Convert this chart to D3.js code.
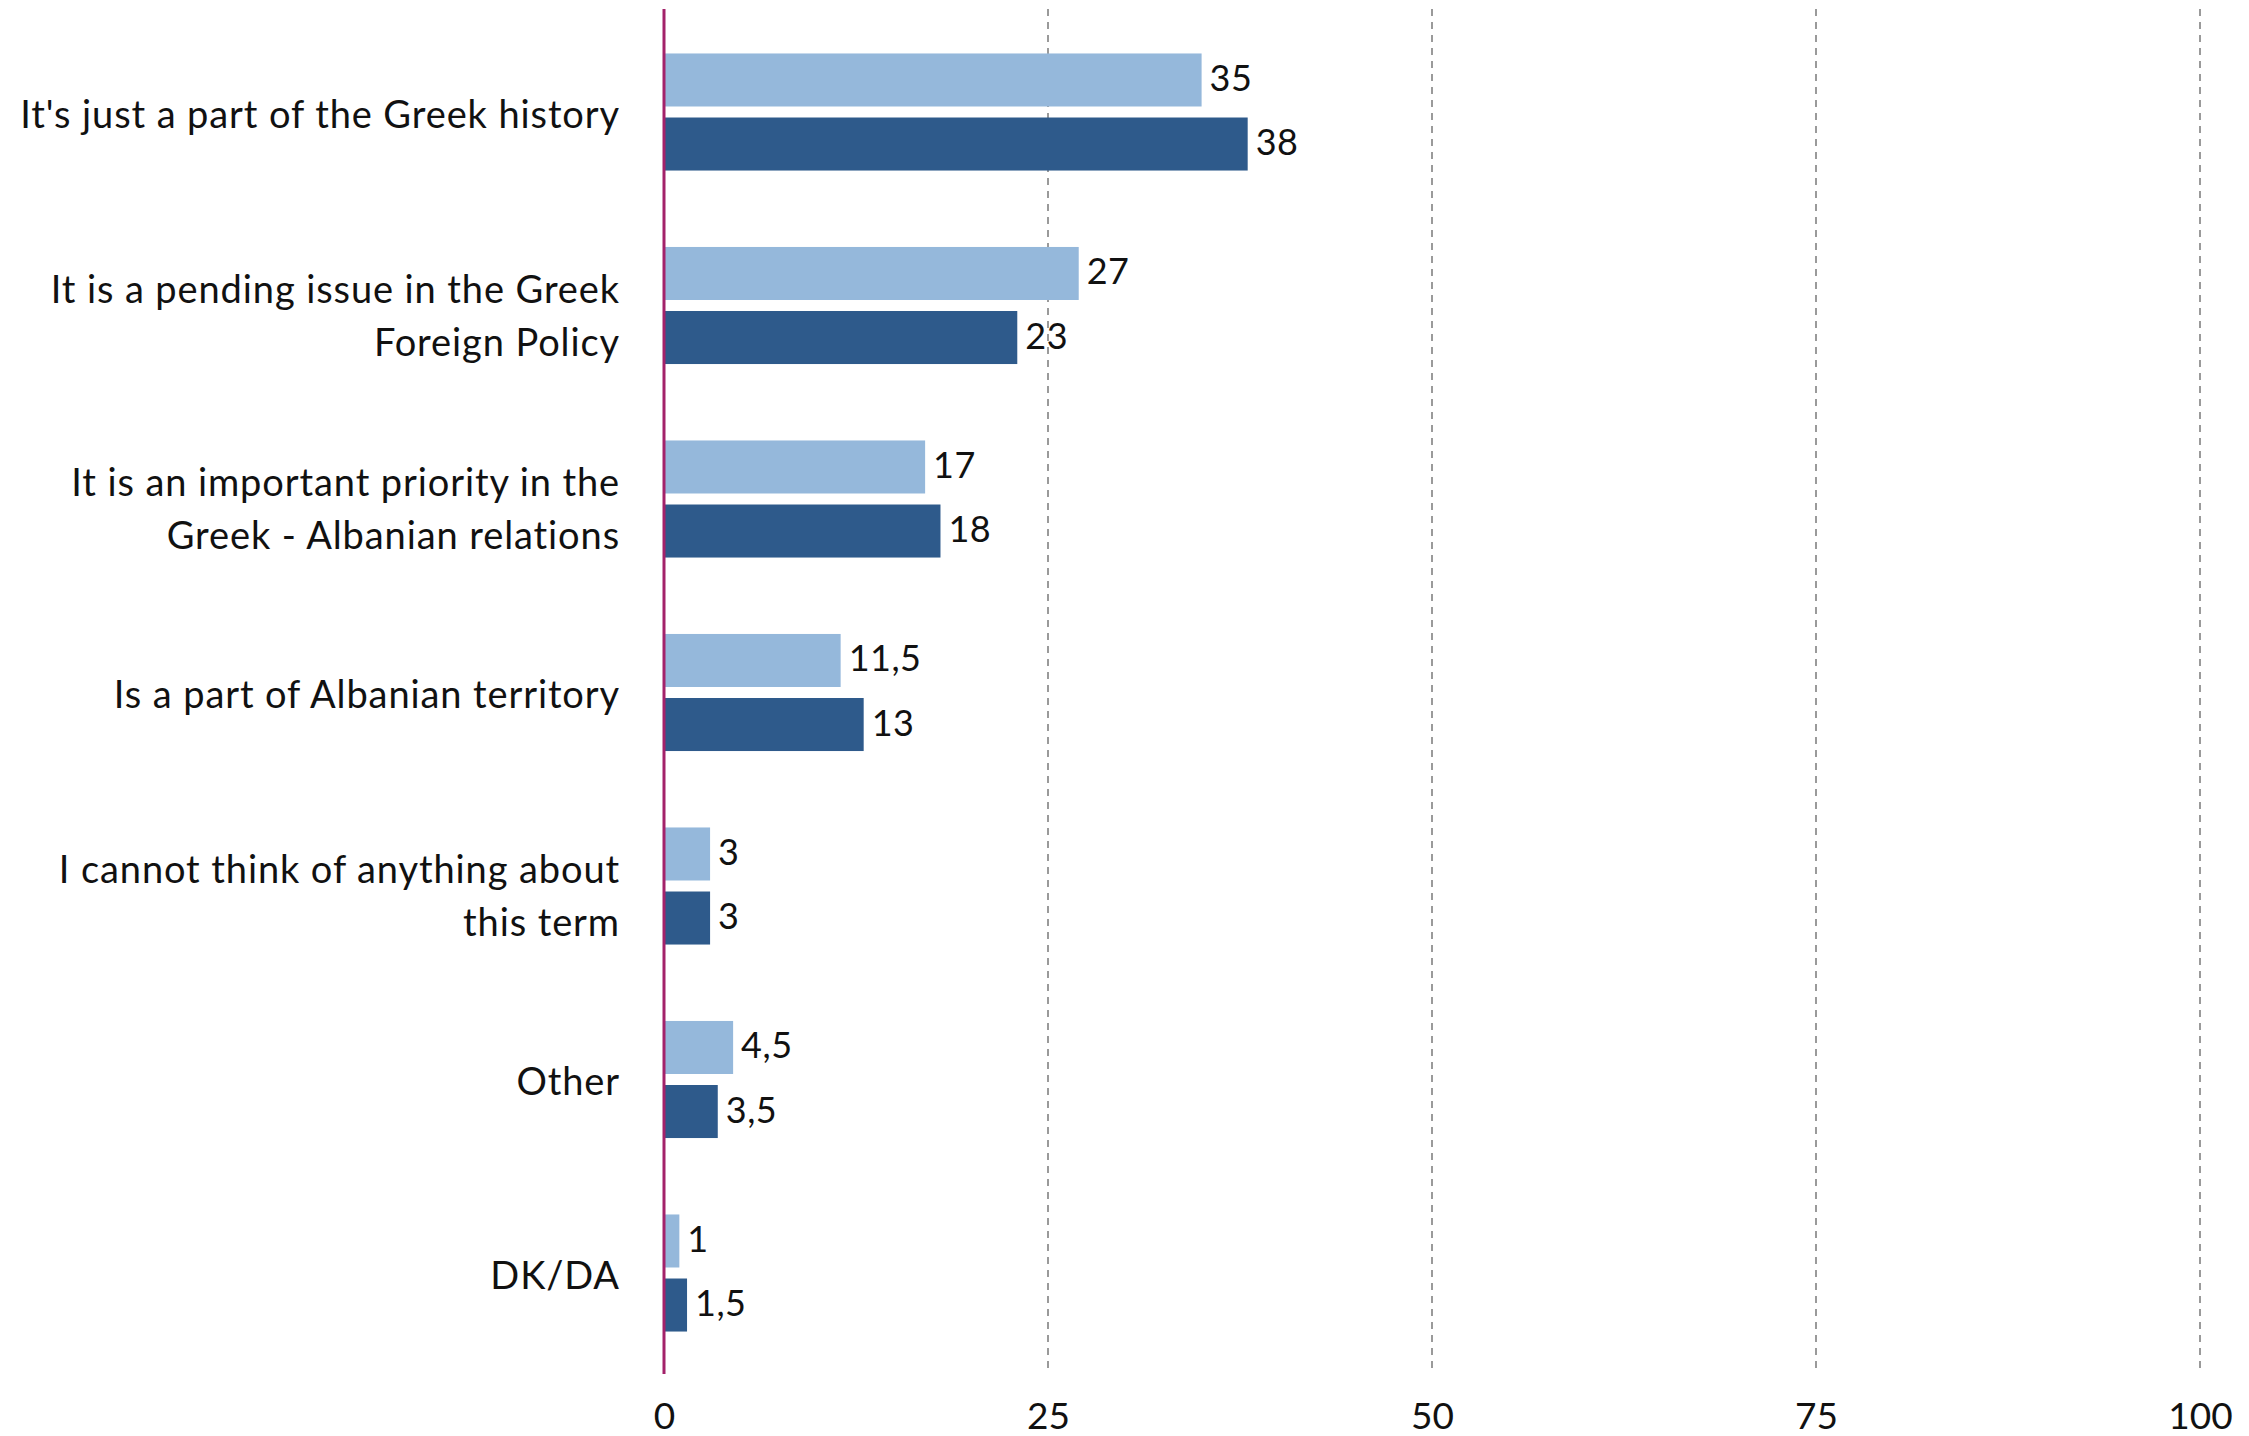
<!DOCTYPE html>
<html>
<head>
<meta charset="utf-8">
<script src="https://cdn.jsdelivr.net/npm/d3@7/dist/d3.min.js"></script>
<style>
html,body{margin:0;padding:0;background:#fff;}
svg{display:block;}
text{font-family:Lato,"Noto Sans",sans-serif;fill:#111;}
</style>
</head>
<body>
<script>
const categories = [
  ["It's just a part of the Greek history"],
  ["It is a pending issue in the Greek","Foreign Policy"],
  ["It is an important priority in the","Greek - Albanian relations"],
  ["Is a part of Albanian territory"],
  ["I cannot think of anything about","this term"],
  ["Other"],
  ["DK/DA"]
];
const seriesNames = ["s1","s2"];
const seriesLight = [35, 27, 17, 11.5, 3, 4.5, 1];
const seriesDark  = [38, 23, 18, 13, 3, 3.5, 1.5];
const tickValues = [0, 25, 50, 75, 100];

const W = 2249, H = 1436;
const x0 = 664, x1 = 2200, yTop = 9, yBot = 1374;
const colors = {s1:"#95B8DB", s2:"#2E5A8B"};

const svg = d3.select("body").append("svg").attr("width", W).attr("height", H);

const x = d3.scaleLinear().domain([0,100]).range([x0, x1]);
const y = d3.scaleBand().domain(d3.range(categories.length)).range([15.25, 1369.75]).paddingInner(0.395).paddingOuter(0.1975);
const ys = d3.scaleBand().domain(seriesNames).range([0, y.bandwidth()]).paddingInner(0.172).paddingOuter(0);

// gridlines
svg.append("g").selectAll("line").data(tickValues.filter(d=>d>0)).join("line")
  .attr("x1", d=>x(d)).attr("x2", d=>x(d)).attr("y1", yTop).attr("y2", yBot)
  .attr("stroke", "#9a9a9a").attr("stroke-width", 2).attr("stroke-dasharray", "7,6");

// tick labels via axis
const axis = svg.append("g").attr("transform", `translate(0,${yBot})`)
  .call(d3.axisBottom(x).tickValues(tickValues).tickSize(0).tickPadding(29).tickFormat(d3.format("d")));
axis.select(".domain").remove();
axis.selectAll("text").style("font-size","37px").style("font-family","Lato, 'Noto Sans', sans-serif").attr("fill","#111");

const rows = categories.map((c,i)=>({i, label:c, vals:[{k:"s1",v:seriesLight[i]},{k:"s2",v:seriesDark[i]}]}));

const g = svg.append("g").selectAll("g").data(rows).join("g")
  .attr("transform", d=>`translate(0,${y(d.i)})`);

g.selectAll("rect").data(d=>d.vals).join("rect")
  .attr("x", x(0)).attr("y", d=>ys(d.k))
  .attr("width", d=>x(d.v)-x(0)).attr("height", ys.bandwidth())
  .attr("fill", d=>colors[d.k]);

const fmt = v => String(v).replace(".", ",");
g.selectAll("text.val").data(d=>d.vals).join("text").attr("class","val")
  .attr("x", d=>x(d.v)+8).attr("y", d=>ys(d.k)+ys.bandwidth()/2 - 3)
  .attr("dominant-baseline","central")
  .style("font-size","36px").style("letter-spacing","0.5px")
  .text(d=>fmt(d.v));

// category labels
g.each(function(d){
  const n = d.label.length;
  const lh = 53;
  const cy = y.bandwidth()/2 + (n>1 ? 9 : 1);
  const t = d3.select(this).append("text")
    .attr("text-anchor","end").attr("dominant-baseline","central")
    .style("font-size","38px").style("letter-spacing","0.9px");
  d.label.forEach((line,k)=>{
    t.append("tspan").attr("x", 620).attr("y", cy + (k-(n-1)/2)*lh).text(line);
  });
});

// axis line
svg.append("line").attr("x1", x(0)).attr("x2", x(0)).attr("y1", yTop).attr("y2", yBot)
  .attr("stroke", "#A3226A").attr("stroke-width", 3);
</script>
</body>
</html>
